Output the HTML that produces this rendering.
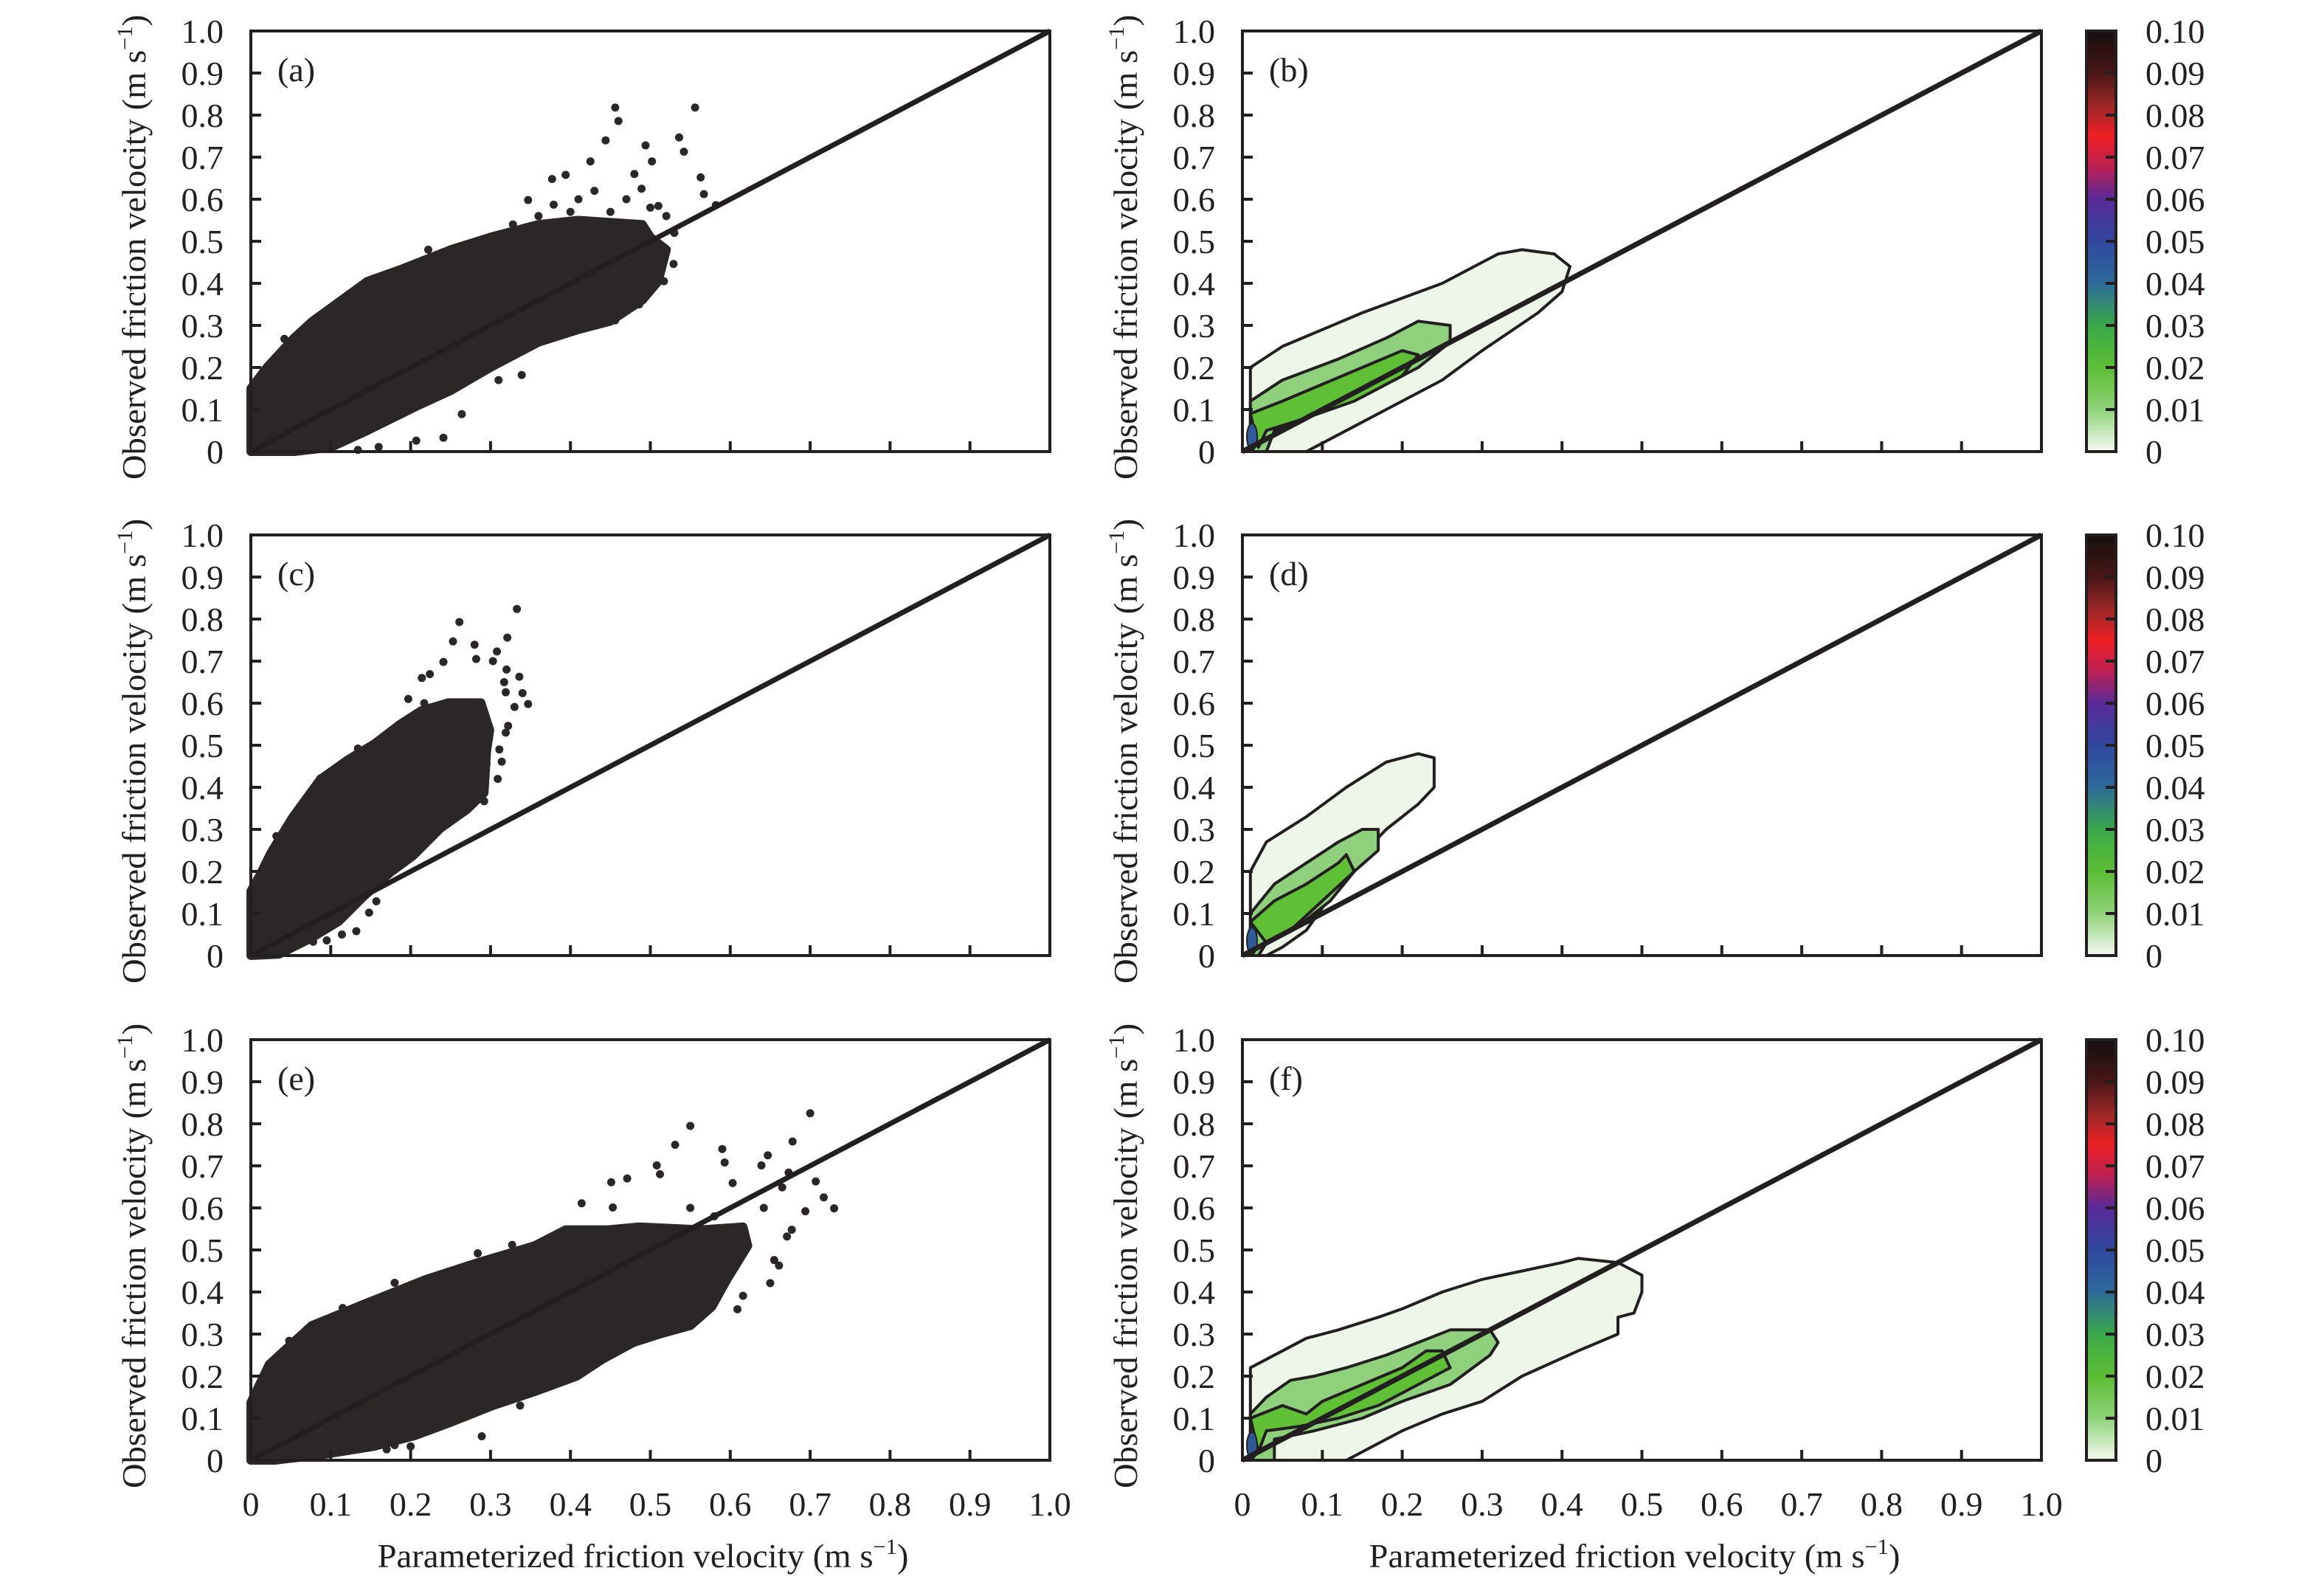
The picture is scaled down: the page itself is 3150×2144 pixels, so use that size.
<!DOCTYPE html>
<html><head><meta charset="utf-8"><style>
html,body{margin:0;padding:0;background:#fff;}
svg{display:block;}
svg text{font-family:"Liberation Serif","Times New Roman",serif;}
</style></head><body>
<svg id="fig" width="3150" height="2144" viewBox="0 0 3150 2144" font-family="Liberation Serif, serif" xmlns="http://www.w3.org/2000/svg">
<defs>
<linearGradient id="cbgrad" x1="0" y1="1" x2="0" y2="0">
<stop offset="0" stop-color="#f4f9f1"/><stop offset="0.1" stop-color="#8fd27a"/><stop offset="0.2" stop-color="#5cbd33"/><stop offset="0.3" stop-color="#3aa84a"/><stop offset="0.4" stop-color="#2e6a9a"/><stop offset="0.5" stop-color="#3048a0"/><stop offset="0.6" stop-color="#5a2a9a"/><stop offset="0.68" stop-color="#c02050"/><stop offset="0.75" stop-color="#ed2024"/><stop offset="0.82" stop-color="#a02828"/><stop offset="0.9" stop-color="#4a1616"/><stop offset="1" stop-color="#141010"/>
</linearGradient>
</defs>
</svg>
<script>
// ---- data ----
const ticks = [0,0.1,0.2,0.3,0.4,0.5,0.6,0.7,0.8,0.9,1.0];
const tickLabels = ["0","0.1","0.2","0.3","0.4","0.5","0.6","0.7","0.8","0.9","1.0"];
const cbTicks = [0,0.01,0.02,0.03,0.04,0.05,0.06,0.07,0.08,0.09,0.10];
const cbLabels = ["0","0.01","0.02","0.03","0.04","0.05","0.06","0.07","0.08","0.09","0.10"];
const panelLabels = ["(a)","(b)","(c)","(d)","(e)","(f)"];

const cloudA = [[0,0],[0,0.15],[0.02,0.2],[0.054,0.27],[0.077,0.31],[0.146,0.405],[0.19,0.435],[0.25,0.48],[0.3,0.51],[0.36,0.54],[0.41,0.55],[0.49,0.54],[0.5,0.51],[0.52,0.48],[0.51,0.405],[0.49,0.36],[0.45,0.31],[0.41,0.29],[0.36,0.26],[0.3,0.2],[0.25,0.145],[0.21,0.11],[0.146,0.05],[0.1,0.01],[0.054,0]];
const outA = [[0.456,0.818],[0.556,0.818],[0.46,0.786],[0.444,0.74],[0.536,0.747],[0.494,0.728],[0.542,0.713],[0.425,0.69],[0.502,0.69],[0.377,0.648],[0.394,0.658],[0.563,0.652],[0.567,0.612],[0.582,0.586],[0.347,0.598],[0.379,0.587],[0.489,0.625],[0.51,0.584],[0.328,0.54],[0.529,0.446],[0.517,0.405],[0.486,0.35],[0.456,0.312],[0.222,0.48],[0.339,0.182],[0.241,0.033],[0.264,0.089],[0.207,0.026],[0.042,0.268],[0.123,0.375],[0.134,0.004],[0.16,0.011],[0.47,0.6],[0.52,0.56],[0.43,0.62],[0.41,0.6],[0.45,0.57],[0.53,0.52],[0.5,0.58],[0.48,0.66],[0.36,0.56],[0.4,0.57],[0.29,0.2],[0.31,0.17]];
const cloudC = [[0,0],[0,0.153],[0.011,0.19],[0.025,0.244],[0.052,0.328],[0.087,0.419],[0.121,0.465],[0.155,0.504],[0.186,0.549],[0.213,0.582],[0.247,0.601],[0.288,0.601],[0.299,0.536],[0.295,0.484],[0.292,0.387],[0.271,0.348],[0.237,0.302],[0.203,0.237],[0.175,0.198],[0.141,0.14],[0.11,0.081],[0.076,0.042],[0.035,0.003]];
const outC = [[0.333,0.824],[0.261,0.793],[0.253,0.747],[0.321,0.756],[0.28,0.739],[0.308,0.723],[0.282,0.705],[0.241,0.698],[0.303,0.7],[0.32,0.68],[0.336,0.663],[0.214,0.66],[0.224,0.669],[0.317,0.65],[0.319,0.626],[0.34,0.624],[0.347,0.598],[0.33,0.591],[0.197,0.61],[0.217,0.6],[0.322,0.546],[0.319,0.53],[0.311,0.49],[0.314,0.461],[0.309,0.42],[0.295,0.455],[0.292,0.367],[0.032,0.284],[0.087,0.421],[0.134,0.492],[0.132,0.058],[0.114,0.05],[0.157,0.129],[0.148,0.102],[0.095,0.036],[0.078,0.033]];
const cloudE = [[0,0],[0,0.137],[0.023,0.228],[0.076,0.32],[0.14,0.37],[0.219,0.43],[0.284,0.47],[0.355,0.51],[0.394,0.548],[0.447,0.548],[0.486,0.555],[0.564,0.548],[0.616,0.555],[0.622,0.51],[0.596,0.43],[0.577,0.365],[0.55,0.32],[0.512,0.3],[0.479,0.28],[0.44,0.24],[0.408,0.2],[0.355,0.163],[0.303,0.13],[0.25,0.09],[0.206,0.059],[0.154,0.033],[0.089,0.013],[0.03,0]];
const outE = [[0.7,0.825],[0.55,0.795],[0.531,0.75],[0.59,0.74],[0.678,0.758],[0.647,0.725],[0.593,0.708],[0.639,0.701],[0.508,0.701],[0.512,0.68],[0.471,0.67],[0.451,0.661],[0.673,0.684],[0.707,0.663],[0.603,0.659],[0.665,0.649],[0.717,0.625],[0.73,0.599],[0.694,0.592],[0.414,0.611],[0.453,0.601],[0.677,0.548],[0.671,0.532],[0.655,0.476],[0.661,0.463],[0.65,0.421],[0.616,0.391],[0.609,0.359],[0.289,0.057],[0.337,0.13],[0.18,0.036],[0.2,0.033],[0.17,0.026],[0.048,0.284],[0.115,0.362],[0.18,0.422],[0.284,0.492],[0.327,0.512],[0.642,0.6],[0.58,0.58],[0.55,0.6]];

const outerB = [[0.01,0],[0.01,0.2],[0.05,0.25],[0.15,0.33],[0.25,0.4],[0.32,0.47],[0.35,0.48],[0.39,0.47],[0.41,0.44],[0.4,0.38],[0.37,0.33],[0.3,0.24],[0.25,0.17],[0.18,0.1],[0.12,0.04],[0.08,0]];
const midB = [[0.01,0],[0.01,0.12],[0.05,0.17],[0.12,0.22],[0.18,0.27],[0.22,0.31],[0.26,0.3],[0.26,0.26],[0.22,0.2],[0.15,0.13],[0.08,0.08],[0.04,0.05],[0.03,0]];
const innerB = [[0.01,0.09],[0.05,0.12],[0.1,0.16],[0.15,0.2],[0.2,0.24],[0.22,0.23],[0.2,0.18],[0.14,0.12],[0.08,0.08],[0.03,0.05],[0.02,0.01]];
const outerD = [[0.01,0],[0.01,0.2],[0.03,0.27],[0.08,0.33],[0.13,0.4],[0.18,0.46],[0.22,0.48],[0.24,0.47],[0.24,0.4],[0.22,0.36],[0.18,0.3],[0.14,0.22],[0.11,0.14],[0.08,0.06],[0.05,0.02],[0.03,0]];
const midD = [[0.01,0],[0.01,0.1],[0.04,0.17],[0.08,0.22],[0.12,0.27],[0.15,0.3],[0.17,0.3],[0.17,0.25],[0.14,0.2],[0.11,0.13],[0.07,0.07],[0.03,0.03],[0.02,0]];
const innerD = [[0.01,0.08],[0.04,0.13],[0.08,0.17],[0.12,0.22],[0.13,0.24],[0.14,0.2],[0.1,0.13],[0.06,0.06],[0.03,0.03]];
const outerF = [[0.01,0],[0.01,0.22],[0.03,0.24],[0.05,0.26],[0.08,0.29],[0.12,0.31],[0.17,0.34],[0.2,0.36],[0.25,0.4],[0.3,0.43],[0.35,0.45],[0.4,0.47],[0.42,0.48],[0.47,0.47],[0.5,0.44],[0.5,0.4],[0.49,0.35],[0.47,0.34],[0.47,0.3],[0.42,0.26],[0.35,0.2],[0.3,0.14],[0.25,0.11],[0.2,0.07],[0.15,0.02],[0.13,0]];
const midF = [[0.01,0],[0.01,0.11],[0.03,0.15],[0.06,0.19],[0.09,0.2],[0.13,0.22],[0.18,0.25],[0.22,0.28],[0.26,0.31],[0.31,0.31],[0.32,0.28],[0.31,0.25],[0.26,0.18],[0.2,0.14],[0.15,0.1],[0.09,0.07],[0.04,0.05],[0.04,0]];
const innerF = [[0.01,0.1],[0.05,0.13],[0.08,0.11],[0.1,0.14],[0.15,0.18],[0.2,0.22],[0.23,0.26],[0.25,0.26],[0.26,0.22],[0.22,0.18],[0.17,0.13],[0.12,0.1],[0.07,0.08],[0.03,0.07],[0.02,0.02]];

// ---- layout ----
const NS="http://www.w3.org/2000/svg";
const svg=document.getElementById('fig');
const W=1083,H=570;
const colX=[340,1684], rowY=[42,725,1409];
const FF='Liberation Serif, serif';
function mk(tag,attrs,parent){const e=document.createElementNS(NS,tag);for(const k in attrs)e.setAttribute(k,attrs[k]);if(tag==='text')e.setAttribute('font-family',FF);(parent||svg).appendChild(e);return e;}
function panel(ix,iy){const x0=colX[ix],y0=rowY[iy];return{x0,y0,sx:v=>x0+v*W,sy:v=>y0+H-v*H};}
function poly(P,pts){return pts.map(p=>P.sx(p[0]).toFixed(1)+','+P.sy(p[1]).toFixed(1)).join(' ');}

function axes(P,g,showX){
  mk('rect',{x:P.x0,y:P.y0,width:W,height:H,fill:'none',stroke:'#231f20','stroke-width':4},g);
  ticks.forEach((t,i)=>{
    if(t>0&&t<1){
      const a=mk('line',{x1:P.x0,x2:P.x0+14,y1:P.sy(t),y2:P.sy(t),stroke:'#231f20','stroke-width':4},g);
      
      const b=mk('line',{x1:P.sx(t),x2:P.sx(t),y1:P.y0+H,y2:P.y0+H-14,stroke:'#231f20','stroke-width':4},g);
      
    }
    const yl=mk('text',{x:P.x0-37,y:P.sy(t)+16,'text-anchor':'end','font-size':46,fill:'#231f20'},g);
    yl.textContent=tickLabels[i];
    
    if(showX){
      const xl=mk('text',{x:P.sx(t),y:P.y0+H+75,'text-anchor':'middle','font-size':46,fill:'#231f20'},g);
      xl.textContent=tickLabels[i];
      
    }
  });
  const yt=mk('text',{transform:`translate(${P.x0-143},${P.y0+H/2+8}) rotate(-90)`,'text-anchor':'middle','font-size':46,textLength:630,lengthAdjust:'spacingAndGlyphs',fill:'#231f20'},g);
  yt.innerHTML='Observed friction velocity (m s<tspan dy="-18" font-size="30">−1</tspan><tspan dy="18">)</tspan>';
  
  if(showX){
    const xt=mk('text',{x:P.x0+W/2-10,y:P.y0+H+145,'text-anchor':'middle','font-size':46,textLength:720,lengthAdjust:'spacingAndGlyphs',fill:'#231f20'},g);
    xt.innerHTML='Parameterized friction velocity (m s<tspan dy="-18" font-size="30">−1</tspan><tspan dy="18">)</tspan>';
    
  }
}

const scatters=[[cloudA,outA],[cloudC,outC],[cloudE,outE]];
const contours=[[outerB,midB,innerB],[outerD,midD,innerD],[outerF,midF,innerF]];
const fills=['#edf6e8','#8ed07c','#5fbf35'];

for(let r=0;r<3;r++){
  const P=panel(0,r);
  const g=mk('g',{});
  
  
  const cl=mk('polygon',{points:poly(P,scatters[r][0]),fill:'#2b2727',stroke:'#2b2727','stroke-width':12,'stroke-linejoin':'round'},g);
  
  scatters[r][1].forEach(p=>{
    const c=mk('circle',{cx:P.sx(p[0]),cy:P.sy(p[1]),r:5.5,fill:'#2b2727'},g);
    
  });
  const d=mk('line',{x1:P.sx(0),y1:P.sy(0),x2:P.sx(1),y2:P.sy(1),stroke:'#231f20','stroke-width':7},g);
  
  axes(P,g,r===2);
  const pl=mk('text',{x:P.x0+36,y:P.y0+68,'font-size':46,fill:'#231f20'},g);
  pl.textContent=panelLabels[2*r];
  

  const Q=panel(1,r);
  const h=mk('g',{});
  
  
  contours[r].forEach((c,i)=>{
    const p=mk('polygon',{points:poly(Q,c),fill:fills[i],stroke:'#231f20','stroke-width':4,'stroke-linejoin':'round'},h);
    
  });
  const core=mk('ellipse',{cx:Q.sx(0.012),cy:Q.sy(0.035),rx:7,ry:18,fill:'#2e5a9a',stroke:'#231f20','stroke-width':2},h);
  
  const d2=mk('line',{x1:Q.sx(0),y1:Q.sy(0),x2:Q.sx(1),y2:Q.sy(1),stroke:'#231f20','stroke-width':7},h);
  
  axes(Q,h,r===2);
  const ql=mk('text',{x:Q.x0+36,y:Q.y0+68,'font-size':46,fill:'#231f20'},h);
  ql.textContent=panelLabels[2*r+1];
  

  const cg=mk('g',{});
  
  
  const cy0=rowY[r], cx0=2828, cw=40;
  const cb=mk('rect',{x:cx0,y:cy0,width:cw,height:H,fill:'url(#cbgrad)',stroke:'#231f20','stroke-width':4},cg);
  
  cbTicks.forEach((t,i)=>{
    const yy=cy0+H-(t/0.1)*H;
    if(i>0&&i<cbTicks.length-1){
      const tk=mk('line',{x1:cx0+cw-14,x2:cx0+cw,y1:yy,y2:yy,stroke:'#231f20','stroke-width':4},cg);
      
    }
    const tl=mk('text',{x:2908,y:yy+16,'font-size':46,fill:'#231f20'},cg);
    tl.textContent=cbLabels[i];
    
  });
}
</script>
</body></html>
